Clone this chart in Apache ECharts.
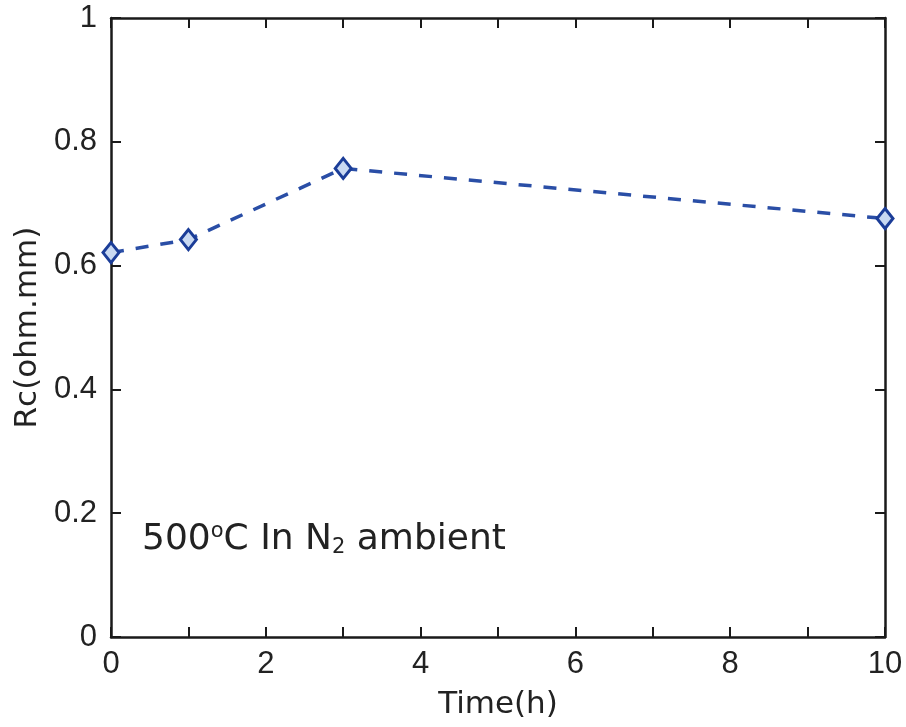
<!DOCTYPE html>
<html>
<head>
<meta charset="utf-8">
<script src="https://cdn.jsdelivr.net/npm/echarts@6/dist/echarts.min.js"></script>
<style>
	html,body{margin:0;padding:0;background:#fff;}
	#main{width:906px;height:727px;}
</style>
</head>
<body>
<div id="main"></div>
<script>
	// data
	var timeH = [0, 1, 3, 10];
	var rcValues = [0.621, 0.642, 0.757, 0.676];
	var xTicks = [0, 2, 4, 6, 8, 10];
	var yTicks = [0, 0.2, 0.4, 0.6, 0.8, 1];

	var fontName = '"Liberation Sans", Arial, sans-serif';
	var wideFont = '"DejaVu Sans", sans-serif';
	var axisColor = '#1a1a1a';

	function boxAxis(pos, isX, showLabel){
		var ax = {
			type: 'value',
			position: pos,
			min: 0,
			max: isX ? 10 : 1,
			interval: isX ? 2 : 0.2,
			axisLine: {show: true, onZero: false, lineStyle: {color: axisColor, width: 2.5}},
			axisTick: {show: true, inside: true, length: 10, lineStyle: {color: axisColor, width: 2}},
			splitLine: {show: false},
			axisLabel: {
				show: showLabel,
				color: '#222',
				fontFamily: fontName,
				fontSize: 31,
				margin: isX ? 12 : 14,
				formatter: function(v){ return String(Math.round(v*10)/10); }
			}
		};
		if(isX){
			ax.minorTick = {show: true, splitNumber: 2, length: 10, lineStyle: {color: axisColor, width: 2}};
		}
		return ax;
	}

	var xBottom = boxAxis('bottom', true, true);
	xBottom.name = 'Time(h)';
	xBottom.nameLocation = 'middle';
	xBottom.nameGap = 52;
	xBottom.nameTextStyle = {fontFamily: wideFont, fontSize: 31, color: '#222'};

	var yLeft = boxAxis('left', false, true);
	yLeft.name = 'Rc(ohm.mm)';
	yLeft.nameLocation = 'middle';
	yLeft.nameGap = 67;
	yLeft.nameTextStyle = {fontFamily: wideFont, fontSize: 31, color: '#222'};

	var option = {
		backgroundColor: '#ffffff',
		animation: false,
		grid: {left: 111, right: 21, top: 18, bottom: 90},
		xAxis: [xBottom, boxAxis('top', true, false)],
		yAxis: [yLeft, boxAxis('right', false, false)],
		graphic: [{
			type: 'text',
			left: 142,
			top: 521,
			style: {
				text: '500{sup|o}C In N{sub|2} ambient',
				font: '36px ' + wideFont,
				fill: '#222',
				rich: {
					sup: {fontSize: 21, verticalAlign: 'top', padding: [0, 0, 14, 0], fontFamily: wideFont},
					sub: {fontSize: 21, padding: [16, 0, 0, 0], fontFamily: wideFont}
				}
			}
		}],
		series: [{
			type: 'line',
			xAxisIndex: 0,
			yAxisIndex: 0,
			data: timeH.map(function(t, i){ return [t, rcValues[i]]; }),
			symbol: 'diamond',
			symbolSize: [16, 20],
			lineStyle: {color: '#2a4ea6', width: 3.5, type: [13, 12]},
			itemStyle: {color: '#c9d9f2', borderColor: '#1b3d98', borderWidth: 3},
			clip: false
		}]
	};

	var myChart = echarts.init(document.getElementById('main'));
	myChart.setOption(option);
	//窗口变动，表格刷新
	window.addEventListener('resize', function(){ myChart.resize(); });
</script>
</body>
</html>
